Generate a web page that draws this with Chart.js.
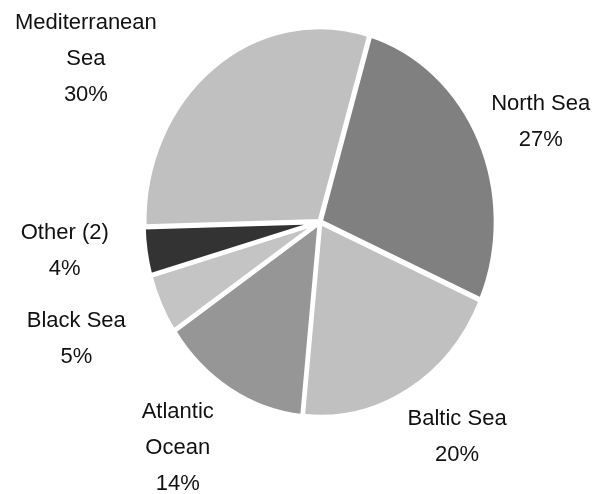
<!DOCTYPE html>
<html>
<head>
<meta charset="utf-8">
<script src="https://cdn.jsdelivr.net/npm/chart.js@4"></script>
<style>
  html, body { margin: 0; padding: 0; background: #fff; }
  #wrap { width: 594px; height: 494px; }
</style>
</head>
<body>
<div id="wrap"><canvas id="seaChart" width="594" height="494"></canvas></div>
<script>
// Data (share of catch by sea, %)
const categories = ['North Sea', 'Baltic Sea', 'Atlantic Ocean', 'Black Sea', 'Other (2)', 'Mediterranean Sea'];
const shares = [27, 20, 14, 5, 4, 30];
const labelLines = [['North Sea'], ['Baltic Sea'], ['Atlantic', 'Ocean'], ['Black Sea'], ['Other (2)'], ['Mediterranean', 'Sea']];
const sliceColors = ['#808080', '#c0c0c0', '#969696', '#c4c4c4', '#333333', '#c0c0c0'];

// squash the pie into the slightly tall ellipse of the original
const stretchY = 1.11;

const ellipsePlugin = {
    id: 'ellipse',
    beforeDatasetsDraw(chart) {
        const arc = chart.getDatasetMeta(0).data[0];
        const ctx = chart.ctx;
        ctx.save();
        ctx.translate(arc.x, arc.y);
        ctx.scale(1, stretchY);
        ctx.translate(-arc.x, -arc.y);
    },
    afterDatasetsDraw(chart) {
        chart.ctx.restore();
    }
};

// outside labels, placed along each slice's middle angle
const outLabels = {
    id: 'outLabels',
    afterDraw(chart, args, opts) {
        const ctx = chart.ctx;
        const arcs = chart.getDatasetMeta(0).data;
        const total = shares.reduce((a, b) => a + b, 0);
        ctx.save();
        ctx.font = opts.font;
        ctx.fillStyle = opts.color;
        ctx.textAlign = 'center';
        ctx.textBaseline = 'middle';
        arcs.forEach((arc, i) => {
            const mid = (arc.startAngle + arc.endAngle) / 2;
            const nudge = opts.nudges[i];
            const ax = arc.x + Math.cos(mid) * opts.distance + nudge[0];
            const ay = arc.y + Math.sin(mid) * opts.distance * stretchY + nudge[1];
            const lines = labelLines[i].concat([Math.round(shares[i] / total * 100) + '%']);
            const top = ay - (lines.length - 1) * opts.lineHeight / 2;
            lines.forEach((t, j) => ctx.fillText(t, ax, top + j * opts.lineHeight));
        });
        ctx.restore();
    }
};

const ctx = document.getElementById('seaChart').getContext('2d');
const chart = new Chart(ctx, {
    type: 'pie',
    data: {
        labels: categories,
        datasets: [{
            data: shares,
            backgroundColor: sliceColors,
            borderColor: '#ffffff',
            borderWidth: 4,
            offset: 3
        }]
    },
    options: {
        responsive: false,
        animation: false,
        rotation: 16.5,
        radius: 175,
        layout: { padding: { left: 146, right: 100, top: 48, bottom: 98 } },
        events: [],
        plugins: {
            legend: { display: false },
            tooltip: { enabled: false },
            outLabels: {
                font: '22px "Liberation Sans", Arial, sans-serif',
                color: '#111111',
                lineHeight: 36,
                distance: 240,
                nudges: [[3, 12], [16, -15], [-19, -3], [-26, 5], [-18, -11], [-88, 48]]
            }
        }
    },
    plugins: [ellipsePlugin, outLabels]
});
</script>
</body>
</html>
